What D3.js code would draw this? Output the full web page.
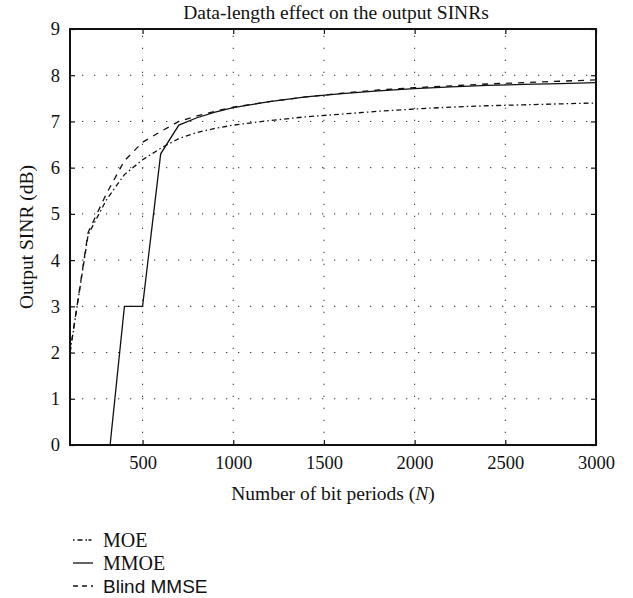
<!DOCTYPE html>
<html><head><meta charset="utf-8">
<script src="https://cdn.jsdelivr.net/npm/d3@7"></script>
<style>body{margin:0;background:#fff}svg{display:block}text{font-family:"Liberation Serif","DejaVu Serif",serif;fill:#111}</style>
</head><body>
<script>
const N = [100,200,300,400,500,600,700,800,900,1000,1200,1400,1600,1800,2000,2200,2400,2600,2800,3000];
const MOE = [2.0,4.55,5.3,5.85,6.17,6.42,6.63,6.76,6.85,6.92,7.02,7.1,7.16,7.22,7.27,7.31,7.34,7.36,7.38,7.4];
const MMOE = [-6,-3,-0.8,3.0,3.0,6.3,6.92,7.08,7.2,7.3,7.43,7.53,7.6,7.66,7.71,7.75,7.78,7.8,7.82,7.84];
const BlindMMSE = [2.0,4.6,5.43,6.15,6.55,6.78,7.0,7.12,7.22,7.31,7.43,7.53,7.61,7.68,7.73,7.77,7.81,7.84,7.87,7.9];
const xTicks = [500,1000,1500,2000,2500,3000];
const yTicks = [0,1,2,3,4,5,6,7,8,9];
const seriesNames = ["MOE","MMOE","Blind MMSE"];

const W=633,H=598;
const m={l:70,r:37,t:29,b:153};
const svg=d3.select("body").append("svg").attr("width",W).attr("height",H);
const x=d3.scaleLinear().domain([100,3000]).range([m.l,W-m.r]);
const y=d3.scaleLinear().domain([0,9]).range([H-m.b,m.t]);

// grid
const g=svg.append("g");
g.selectAll(".gx").data(xTicks).join("line")
 .attr("x1",d=>x(d)).attr("x2",d=>x(d)).attr("y1",y(0)).attr("y2",y(9))
 .attr("stroke","#333").attr("stroke-width",1).attr("stroke-dasharray","1.3,10.7");
g.selectAll(".gy").data(yTicks.slice(1,-1)).join("line")
 .attr("y1",d=>y(d)).attr("y2",d=>y(d)).attr("x1",x(100)).attr("x2",x(3000))
 .attr("stroke","#333").attr("stroke-width",1).attr("stroke-dasharray","1.3,10.7");

// clip
svg.append("clipPath").attr("id","c").append("rect")
 .attr("x",x(100)).attr("y",y(9)).attr("width",x(3000)-x(100)).attr("height",y(0)-y(9));

const line=d3.line().x((d,i)=>x(N[i])).y(d=>y(d));
const styles=[{v:MOE,dash:"5,3,1.5,3"},{v:MMOE,dash:null},{v:BlindMMSE,dash:"6,6"}];
const lg=svg.append("g").attr("clip-path","url(#c)");
styles.forEach(s=>{
  lg.append("path").attr("d",line(s.v)).attr("fill","none").attr("stroke","#111")
   .attr("stroke-width",1.3).attr("stroke-dasharray",s.dash);
});

// axes with inward ticks
const ax=svg.append("g");
ax.append("g").attr("transform",`translate(0,${y(0)})`)
 .call(d3.axisBottom(x).tickValues(xTicks).tickSize(-5).tickPadding(11).tickFormat(d3.format("d")));
ax.append("g").attr("transform",`translate(0,${y(9)})`)
 .call(d3.axisTop(x).tickValues(xTicks).tickSize(-5).tickFormat(""));
ax.append("g").attr("transform",`translate(${x(100)},0)`)
 .call(d3.axisLeft(y).tickValues(yTicks).tickSize(-5).tickPadding(10).tickFormat(d3.format("d")));
ax.append("g").attr("transform",`translate(${x(3000)},0)`)
 .call(d3.axisRight(y).tickValues(yTicks).tickSize(-5).tickFormat(""));
ax.selectAll(".domain").remove();
ax.selectAll(".tick line").attr("stroke","#111").attr("stroke-width",1.2);
ax.selectAll(".tick text").attr("font-size",18.5).attr("fill","#111")
 .style("font-family",'"Liberation Serif","DejaVu Serif",serif');
svg.append("rect").attr("x",x(100)).attr("y",y(9)).attr("width",x(3000)-x(100)).attr("height",y(0)-y(9))
 .attr("fill","none").attr("stroke","#111").attr("stroke-width",2);

// title and labels
svg.append("text").attr("x",336).attr("y",19).attr("text-anchor","middle").attr("font-size",19.5)
 .text("Data-length effect on the output SINRs");
const xl=svg.append("text").attr("x",(x(100)+x(3000))/2).attr("y",500).attr("text-anchor","middle").attr("font-size",19.5);
xl.append("tspan").text("Number of bit periods (");
xl.append("tspan").attr("font-style","italic").text("N");
xl.append("tspan").text(")");
svg.append("text").attr("transform",`translate(33,${(y(0)+y(9))/2}) rotate(-90)`).attr("text-anchor","middle")
 .attr("font-size",19.5).text("Output SINR (dB)");

// legend
const leg=svg.append("g");
const legY=[540,563,586];
styles.forEach((s,i)=>{
  leg.append("line").attr("x1",73).attr("x2",93).attr("y1",legY[i]).attr("y2",legY[i])
   .attr("stroke","#111").attr("stroke-width",1.3)
   .attr("stroke-dasharray",i===0?"1.5,3,5,3,1.5":(i===2?"5,4":null));
  leg.append("text").attr("x",103).attr("y",legY[i]+6.5).attr("font-size",i===2?19:20)
   .style("font-family",i===2?'"Liberation Sans",Arial,sans-serif':'"Liberation Serif",serif')
   .text(seriesNames[i]);
});
</script>
</body></html>
